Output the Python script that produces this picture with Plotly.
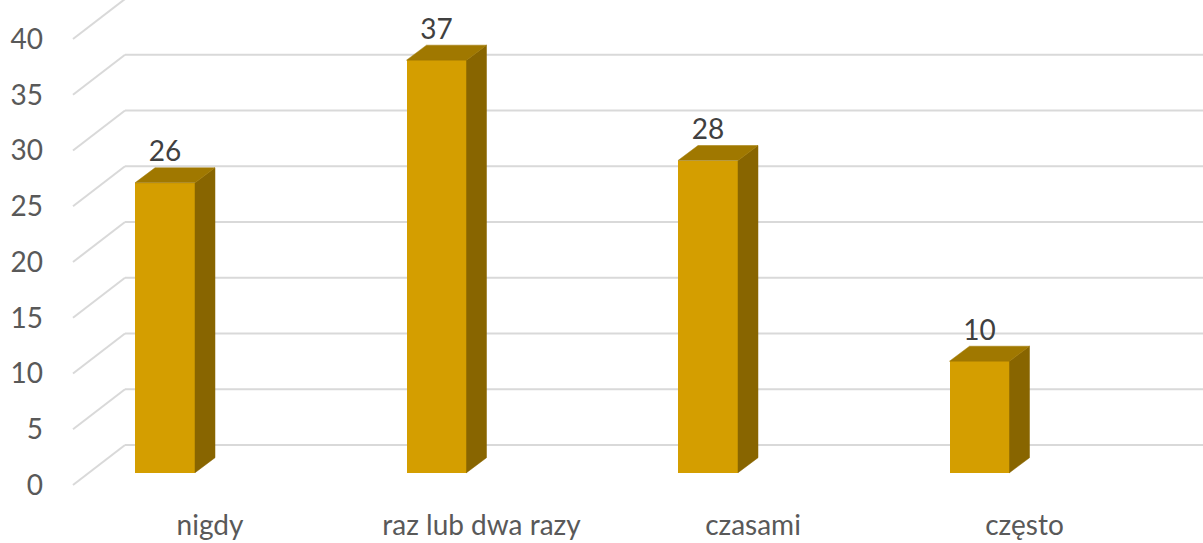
import plotly.graph_objects as go

# ---- data ----
categories = ["nigdy", "raz lub dwa razy", "czasami", "często"]
values = [26, 37, 28, 10]
y_ticks = [0, 5, 10, 15, 20, 25, 30, 35, 40]

# ---- geometry / style constants (pixel mapping of the 3D look) ----
W, H = 1203, 543
L, R, T, B = 50, 0, 0, 43          # margins
X0, XS = 165.0, 271.5              # pixel of category 0, px per category
Y0, YS = 472.7, 11.15              # pixel of value 0 at bar base, px per unit
plot_bottom = H - B

bar_w = 60 / XS
dx, dy = 20 / XS, 15 / YS          # bar depth
label_off = -(485 - Y0) / YS       # tick label level relative to bar base
back_off = (Y0 - 445) / YS         # back wall level relative to bar base
grid_x_left = (73 - X0) / XS
grid_x_back = (125 - X0) / XS
x_min = (L - X0) / XS
x_max = (W - X0) / XS
y_min = (Y0 - plot_bottom) / YS
y_max = (Y0 - T) / YS

FRONT = "#D49E00"
TOP = "#A07800"
SIDE = "#886500"
GRID = "#D9D9D9"
FONT = "Lato"

fig = go.Figure()

# gridlines (diagonal on the left wall + horizontal on the back wall), under the bars
for v in y_ticks:
    fig.add_shape(type="line", xref="x", yref="y", layer="below",
                  x0=grid_x_left, y0=v + label_off, x1=grid_x_back, y1=v + back_off,
                  line=dict(color=GRID, width=2))
    fig.add_shape(type="line", xref="x", yref="y", layer="below",
                  x0=grid_x_back, y0=v + back_off, x1=x_max + 0.1, y1=v + back_off,
                  line=dict(color=GRID, width=2))

xs = list(range(len(categories)))

# front faces
fig.add_trace(go.Bar(x=xs, y=values, width=bar_w, marker=dict(color=FRONT, line=dict(width=0)),
                     showlegend=False, hoverinfo="skip"))

# side faces
sx, sy = [], []
for i, v in zip(xs, values):
    r = i + bar_w / 2
    sx += [r, r + dx, r + dx, r, r, None]
    sy += [0, dy, v + dy, v, 0, None]
fig.add_trace(go.Scatter(x=sx, y=sy, mode="lines", fill="toself",
                         fillcolor=SIDE, line=dict(color=SIDE, width=0.5),
                         hoverinfo="skip", showlegend=False))

# top faces
tx, ty = [], []
for i, v in zip(xs, values):
    l, r = i - bar_w / 2, i + bar_w / 2
    tx += [l, r, r + dx, l + dx, l, None]
    ty += [v, v, v + dy, v + dy, v, None]
fig.add_trace(go.Scatter(x=tx, y=ty, mode="lines", fill="toself",
                         fillcolor=TOP, line=dict(color=TOP, width=0.5),
                         hoverinfo="skip", showlegend=False))

# value labels
fig.add_trace(go.Scatter(x=xs, y=[v + 28.5 / YS for v in values], mode="text",
                         text=[str(v) for v in values], textposition="middle center",
                         textfont=dict(family=FONT, size=28, color="#404040"),
                         hoverinfo="skip", showlegend=False, cliponaxis=False))

fig.update_layout(
    width=W, height=H,
    margin=dict(l=L, r=R, t=T, b=B, autoexpand=False),
    paper_bgcolor="white", plot_bgcolor="white",
    font=dict(family=FONT, size=28, color="#595959"),
    xaxis=dict(range=[x_min, x_max], showgrid=False, zeroline=False, showline=False,
               automargin=False, ticklabelstandoff=6,
               tickmode="array", tickvals=[i + 45 / XS for i in xs], ticktext=categories,
               ticks="", tickfont=dict(size=28, color="#595959")),
    yaxis=dict(range=[y_min, y_max], showgrid=False, zeroline=False, showline=False,
               automargin=False, ticklabelstandoff=6,
               tickmode="array", tickvals=[v + label_off for v in y_ticks],
               ticktext=[str(v) for v in y_ticks], ticks="",
               tickfont=dict(size=28, color="#595959")),
    bargap=0,
)

fig.write_html("out.html", config={"displayModeBar": False},
               post_script="document.body.style.margin='0';document.body.style.overflow='hidden';")
